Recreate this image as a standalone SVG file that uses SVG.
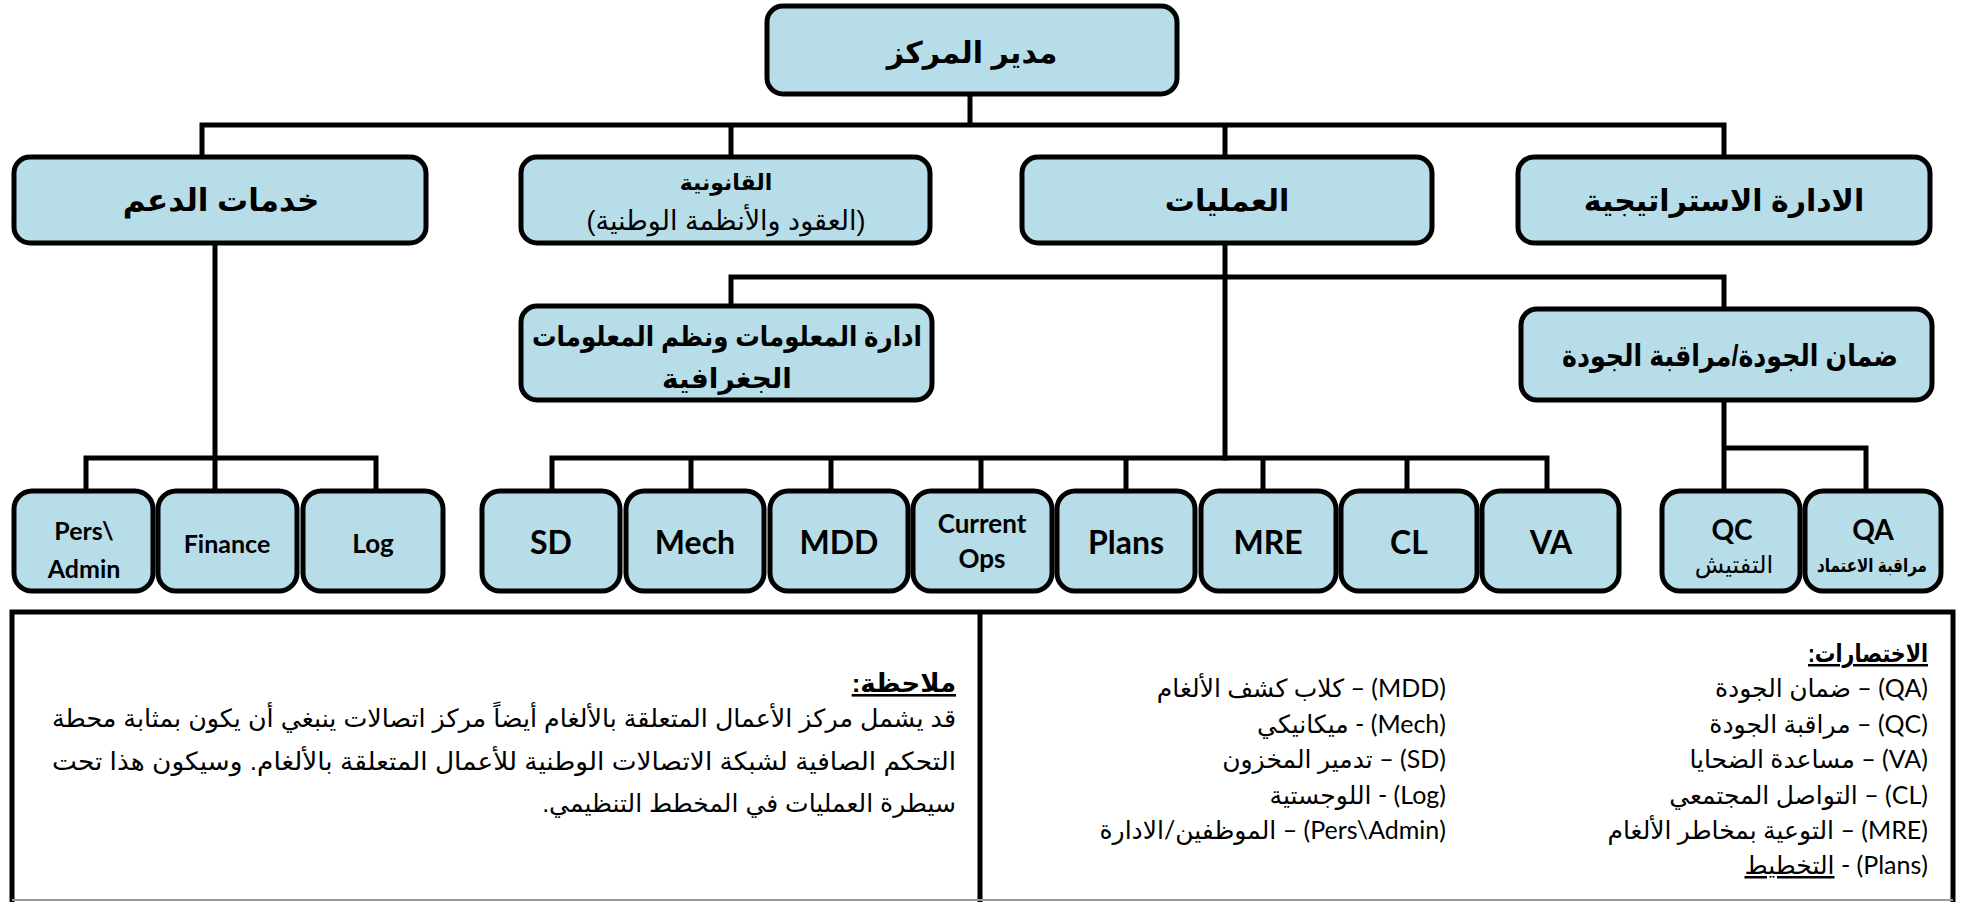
<svg xmlns="http://www.w3.org/2000/svg" width="1962" height="902" viewBox="0 0 1962 902">
<style>
.box{fill:#b7dde8;stroke:#000;stroke-width:5}
.conn{stroke:#000;stroke-width:5;fill:none;stroke-linecap:square}
.ar{font-family:"Liberation Sans","DejaVu Sans",sans-serif;fill:#000}
.b{font-weight:bold}
.c{text-anchor:middle}
.lt{font-family:Lato,"DejaVu Sans",sans-serif;font-weight:bold;text-anchor:middle;fill:#000}
.lg{font-family:Lato,"DejaVu Sans",sans-serif;font-size:25px;fill:#000}
</style>
<rect width="1962" height="902" fill="#fff"/>
<g id="connectors">
<path class="conn" d="M970,96V125M202,125H1724M202,125V155M731,125V155M1225,125V155M1724,125V155"/>
<path class="conn" d="M215,245V490M86,458H376M86,458V490M376,458V490"/>
<path class="conn" d="M1225,245V458M731,277H1724M731,277V305M1724,277V308"/>
<path class="conn" d="M552,458H1547M552,458V490M691,458V490M831,458V490M981,458V490M1126,458V490M1263,458V490M1407,458V490M1547,458V490"/>
<path class="conn" d="M1724,401V448H1866V490M1724,448V490"/>
</g>
<g id="director"><rect class="box" x="767" y="6" width="410" height="88" rx="16"/><text class="ar b c" x="972" y="63" font-size="30" direction="rtl">مدير المركز</text></g>
<g id="support"><rect class="box" x="14" y="157" width="412" height="86" rx="16"/><text class="ar b c" x="221" y="211" font-size="31" direction="rtl">خدمات الدعم</text></g>
<g id="legal"><rect class="box" x="521" y="157" width="409" height="86" rx="16"/><text class="ar b c" x="726" y="190" font-size="22" direction="rtl">القانونية</text><text class="ar c" x="726" y="230" font-size="27" direction="rtl">(العقود والأنظمة الوطنية)</text></g>
<g id="operations"><rect class="box" x="1022" y="157" width="410" height="86" rx="16"/><text class="ar b c" x="1227" y="211" font-size="30" direction="rtl">العمليات</text></g>
<g id="strategic"><rect class="box" x="1518" y="157" width="412" height="86" rx="16"/><text class="ar b c" x="1724" y="211" font-size="30" direction="rtl">الادارة الاستراتيجية</text></g>
<g id="imgis"><rect class="box" x="521" y="306" width="411" height="94" rx="16"/><text class="ar b c" x="727" y="346" font-size="28" direction="rtl" textLength="390" lengthAdjust="spacingAndGlyphs">ادارة المعلومات ونظم المعلومات</text><text class="ar b c" x="727" y="388" font-size="28" direction="rtl">الجغرافية</text></g>
<g id="qaqc"><rect class="box" x="1521" y="309" width="411" height="91" rx="16"/><text class="ar b c" x="1730" y="366" font-size="30" direction="rtl" textLength="336" lengthAdjust="spacingAndGlyphs">ضمان الجودة/مراقبة الجودة</text></g>
<g id="pers"><rect class="box" x="14" y="491" width="139" height="100" rx="18"/><text class="lt" x="84" y="540" font-size="25">Pers\</text><text class="lt" x="84" y="578" font-size="25">Admin</text></g>
<g id="finance"><rect class="box" x="158" y="491" width="139" height="100" rx="18"/><text class="lt" x="227" y="553" font-size="25">Finance</text></g>
<g id="log"><rect class="box" x="303" y="491" width="140" height="100" rx="18"/><text class="lt" x="373" y="553" font-size="26">Log</text></g>
<g id="sd"><rect class="box" x="482" y="491" width="138" height="100" rx="18"/><text class="lt" x="551" y="554" font-size="32">SD</text></g>
<g id="mech"><rect class="box" x="626" y="491" width="138" height="100" rx="18"/><text class="lt" x="695" y="554" font-size="32">Mech</text></g>
<g id="mdd"><rect class="box" x="770" y="491" width="138" height="100" rx="18"/><text class="lt" x="839" y="554" font-size="32">MDD</text></g>
<g id="currentops"><rect class="box" x="913" y="491" width="139" height="100" rx="18"/><text class="lt" x="982" y="533" font-size="26">Current</text><text class="lt" x="982" y="568" font-size="26">Ops</text></g>
<g id="plans"><rect class="box" x="1057" y="491" width="138" height="100" rx="18"/><text class="lt" x="1126" y="554" font-size="32">Plans</text></g>
<g id="mre"><rect class="box" x="1201" y="491" width="135" height="100" rx="18"/><text class="lt" x="1268" y="554" font-size="32">MRE</text></g>
<g id="cl"><rect class="box" x="1341" y="491" width="136" height="100" rx="18"/><text class="lt" x="1409" y="554" font-size="32">CL</text></g>
<g id="va"><rect class="box" x="1482" y="491" width="137" height="100" rx="18"/><text class="lt" x="1551" y="554" font-size="32">VA</text></g>
<g id="qc"><rect class="box" x="1662" y="491" width="138" height="100" rx="18"/><text class="lt" x="1732" y="540" font-size="28">QC</text><text class="ar c" x="1734" y="573" font-size="24" direction="rtl">التفتيش</text></g>
<g id="qa"><rect class="box" x="1805" y="491" width="136" height="100" rx="18"/><text class="lt" x="1873" y="540" font-size="28">QA</text><text class="ar c" x="1872" y="572" font-size="19" font-weight="600" direction="rtl" textLength="110" lengthAdjust="spacingAndGlyphs">مراقبة الاعتماد</text></g>
<g id="legend">
<rect x="12" y="612" width="1941" height="300" fill="none" stroke="#000" stroke-width="5"/>
<line x1="980" y1="612" x2="980" y2="902" stroke="#000" stroke-width="5"/>
<line x1="12" y1="900" x2="1953" y2="900" stroke="#999" stroke-width="2"/>
<text class="ar b" x="956" y="692" font-size="26" direction="rtl" text-anchor="start" text-decoration="underline">ملاحظة:</text>
<text class="ar" x="956" y="727" font-size="25" direction="rtl" text-anchor="start" textLength="904" lengthAdjust="spacingAndGlyphs">قد يشمل مركز الأعمال المتعلقة بالألغام أيضاً مركز اتصالات ينبغي أن يكون بمثابة محطة</text>
<text class="ar" x="956" y="770" font-size="25" direction="rtl" text-anchor="start" textLength="904" lengthAdjust="spacingAndGlyphs">التحكم الصافية لشبكة الاتصالات الوطنية للأعمال المتعلقة بالألغام. وسيكون هذا تحت</text>
<text class="ar" x="956" y="812" font-size="25" direction="rtl" text-anchor="start">سيطرة العمليات في المخطط التنظيمي.</text>
<text class="ar b" x="1928" y="662" font-size="25" direction="rtl" text-anchor="start" text-decoration="underline" textLength="120" lengthAdjust="spacingAndGlyphs">الاختصارات:</text>
<text class="lg" x="1928" y="697" direction="rtl" text-anchor="start">(QA) – ضمان الجودة</text>
<text class="lg" x="1928" y="733" direction="rtl" text-anchor="start">(QC) – مراقبة الجودة</text>
<text class="lg" x="1928" y="768" direction="rtl" text-anchor="start">(VA) – مساعدة الضحايا</text>
<text class="lg" x="1928" y="804" direction="rtl" text-anchor="start">(CL) – التواصل المجتمعي</text>
<text class="lg" x="1928" y="839" direction="rtl" text-anchor="start">(MRE) – التوعية بمخاطر الألغام</text>
<text class="lg" x="1928" y="874" direction="rtl" text-anchor="start">(Plans) - <tspan text-decoration="underline">التخطيط</tspan></text>
<text class="lg" x="1446" y="697" direction="rtl" text-anchor="start">(MDD) – كلاب كشف الألغام</text>
<text class="lg" x="1446" y="733" direction="rtl" text-anchor="start">(Mech) - ميكانيكي</text>
<text class="lg" x="1446" y="768" direction="rtl" text-anchor="start">(SD) – تدمير المخزون</text>
<text class="lg" x="1446" y="804" direction="rtl" text-anchor="start">(Log) - اللوجستية</text>
<text class="lg" x="1446" y="839" direction="rtl" text-anchor="start">(Pers\Admin) – الموظفين/الادارة</text>
</g>
</svg>
